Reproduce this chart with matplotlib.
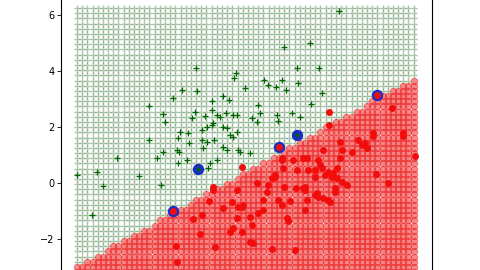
import numpy as np
import matplotlib
matplotlib.use('Agg')
import matplotlib.pyplot as plt

# class +1 (green crosses)
green_x = [2.82, 4.25, 4.18, 2.32, 2.86, 2.0, 1.14, 1.64, 1.71, 3.39, 3.79, 4.0, 2.79, 2.68,
           3.14, 3.57, 3.68, 3.89, 4.14, 4.29, 3.39, 3.21, 3.04, 3.39, 3.79, 3.93, 2.25, 2.54,
           4.29, 7.93, 6.89, 5.96, 6.43, 7.21, 5.25, 5.39, 5.68, 5.89, 6.04, 6.46, 4.57, 7.32,
           6.93, 5.04, 5.11, 4.82, 5.0, 5.71, 5.75, 6.25, 6.54, 1.14, 2.18, 2.57, 3.04, 3.07,
           3.46, 3.79, 3.93, 4.14, 4.32, 3.21, 1.64, 2.14, 2.21, 1.43, 0.0, 2.5, 2.18, 3.57,
           3.32, -0.71, -1.43, 0.79, -0.5, 1.57, -0.89, 3.25, 3.43, 4.04, 4.39, 4.75, 2.89, 6.43]
green_y = [4.11, 3.93, 3.75, 3.32, 3.29, 3.04, 2.75, 2.46, 2.18, 2.93, 3.11, 2.96, 2.54, 2.32,
           2.39, 2.43, 2.36, 2.5, 2.43, 2.43, 2.61, 2.0, 1.89, 2.07, 2.0, 1.96, 1.82, 1.79,
           1.82, 6.14, 5.0, 4.86, 4.11, 4.11, 3.68, 3.5, 3.43, 3.68, 3.32, 3.57, 3.39, 3.21,
           2.82, 2.79, 2.5, 2.32, 2.18, 2.43, 2.21, 2.5, 2.36, 1.54, 1.61, 1.43, 1.54, 1.25,
           1.54, 1.29, 1.18, 1.64, 1.18, 1.46, 1.11, 1.18, 1.11, 0.89, 0.89, 0.82, 0.71, 0.82,
           0.71, 0.39, 0.29, 0.25, -0.11, -0.07, -1.14, 0.54, 2.14, 1.71, 1.11, 1.07, 0.5, 1.71]

# class -1 (red dots)
red_x = [7.96, 8.61, 8.86, 8.93, 8.75, 9.14, 10.21, 8.04, 8.39, 7.36, 7.96, 10.64, 6.64, 6.29,
         5.89, 7.18, 7.25, 4.46, 5.93, 6.43, 6.82, 7.32, 7.54, 7.86, 7.71, 5.64, 5.54, 7.07,
         7.43, 7.68, 7.86, 9.25, 5.0, 5.39, 8.04, 8.21, 5.96, 6.39, 6.71, 6.71, 7.79, 7.79,
         9.68, 5.36, 7.07, 7.18, 7.36, 7.54, 7.61, 5.75, 6.18, 5.89, 4.5, 4.46, 6.71, 5.21,
         5.04, 4.75, 6.07, 6.11, 4.82, 4.46, 4.75, 4.86, 5.54, 6.36, 3.43, 3.43, 4.29, 3.29,
         3.79, 4.11, 4.32, 3.04, 2.71, 4.29, 2.96, 4.04, 4.14, 3.5, 2.11, 2.14, 7.57, 7.57,
         9.82, 9.14, 10.21, 5.64, 5.89, 6.79, 7.07, 6.64, 5.21, 6.79, 7.14, 2.0, 5.79, 9.29]
red_y = [1.46, 1.54, 1.43, 1.25, 1.36, 1.68, 1.68, 1.18, 1.11, 1.18, 0.89, 0.96, 0.89, 0.82,
         0.82, 0.82, 0.64, 0.57, 0.54, 0.46, 0.46, 0.54, 0.39, 0.54, 0.36, 0.21, 0.18, 0.21,
         0.29, 0.21, 0.18, 0.32, 0.0, -0.07, 0.04, -0.07, -0.14, -0.18, -0.14, -0.25, -0.18, -0.32,
         0.0, -0.32, -0.43, -0.5, -0.54, -0.61, -0.68, -0.61, -0.64, -0.79, -0.79, -0.86, -0.96, -0.96,
         -1.07, -1.21, -1.25, -1.36, -1.5, -1.75, -2.11, -2.14, -2.36, -2.39, -0.14, -0.25, -0.25, -0.64,
         -0.89, -0.68, -0.86, -1.14, -1.29, -1.25, -1.82, -1.75, -1.61, -2.29, -2.25, -2.82, 2.54, 2.07,
         2.68, 1.79, 1.79, 0.29, 0.89, 0.89, 0.46, -0.18, -0.61, -0.61, -0.36, -1.0, 1.29, 3.14]

# support vectors
sv_x = [2.0, 2.89, 5.79, 6.43, 9.29]
sv_y = [-1.0, 0.5, 1.29, 1.71, 3.14]

# linear decision function: w.x + b > 0 -> red side
coef = [0.56, -1.0]
intercept = -2.17

h = 0.185
xx, yy = np.meshgrid(np.arange(-1.43, 10.76, h), np.arange(6.25, -4.2, -h))
zz = coef[0] * xx + coef[1] * yy + intercept
pos = zz <= 0

plt.rcParams['font.size'] = 7
fig = plt.figure(figsize=(4.8, 2.7), dpi=100)
ax = fig.add_axes([61 / 480, -0.1237, 371 / 480, 1.1511])

# background grid, coloured by predicted class
ax.plot(xx[pos], yy[pos], '+', color=(0.15, 0.42, 0.15), ms=4.5, mew=1.0, alpha=0.38)
ax.plot(xx[~pos], yy[~pos], 'o', color=(0.93, 0.1, 0.1), ms=4.8, mew=0.6, alpha=0.5)

ax.plot(sv_x, sv_y, 'o', color=(0.1, 0.18, 0.78), ms=8.2, mew=0)
ax.plot(green_x, green_y, '+', color=(0.0, 0.4, 0.0), ms=5, mew=0.9)
ax.plot(red_x, red_y, 'o', color=(0.95, 0.05, 0.05), ms=5, mew=0)

ax.set_xlim(-2.0, 11.25)
ax.set_ylim(-4.3, 6.8)
ax.set_xticks([])
ax.set_yticks([-2, 0, 2, 4, 6])
ax.set_yticklabels(['\u22122', '0', '2', '4', '6'])
ax.tick_params(length=2.8, width=0.6, pad=2)
for s in ax.spines.values():
    s.set_linewidth(0.8)

fig.savefig('out.png', dpi=100)
